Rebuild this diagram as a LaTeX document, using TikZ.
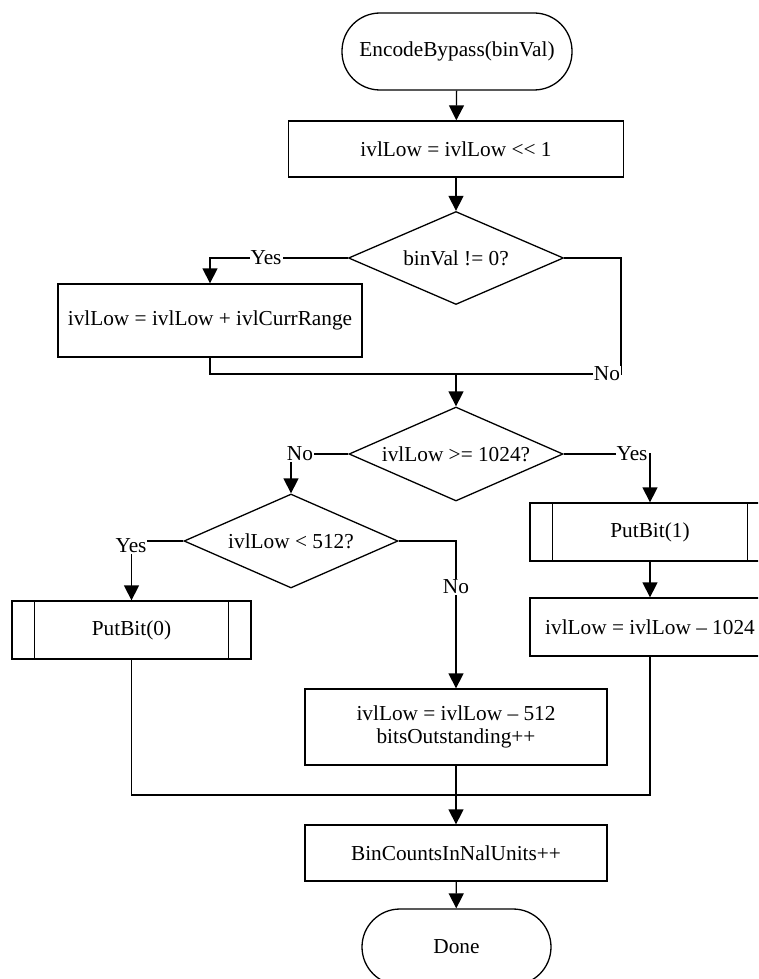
\documentclass[tikz,border=0pt]{standalone}
\usepackage{fontspec}
\setmainfont{Liberation Serif}
\usetikzlibrary{shapes.geometric,arrows.meta}
\begin{document}
\begin{tikzpicture}[x=1pt,y=-1pt,
  every node/.style={font=\fontsize{21.3}{25}\selectfont, inner sep=0pt},
  line/.style={line width=1.3pt},
  arr/.style={line width=1.3pt,-{Triangle[length=15pt,width=15pt]}},
  proc/.style={draw,line width=1.3pt,rectangle,align=center},
  term/.style={draw,line width=1.3pt,rectangle,rounded corners=38pt},
  dec/.style={draw,line width=1.3pt,diamond,aspect=2.3},
  lbl/.style={fill=white,inner sep=1pt}]
\useasboundingbox (0,0) rectangle (758,979);
\clip (0,0) rectangle (758,979);
% nodes
\node[term,minimum width=230pt,minimum height=77pt] (start) at (457,51.5) {EncodeBypass(binVal)};
\node[proc,minimum width=335pt,minimum height=56pt] (box1) at (456,149) {ivlLow = ivlLow {<}{<} 1};
\node[dec,minimum width=215pt,minimum height=93pt] (d1) at (456,258) {binVal != 0?};
\node[proc,minimum width=304pt,minimum height=73pt] (box2) at (210,320.5) {ivlLow = ivlLow + ivlCurrRange};
\node[dec,minimum width=214pt,minimum height=94pt] (d2) at (456,454) {ivlLow >= 1024?};
\node[proc,minimum width=240pt,minimum height=58pt] (pb1) at (650,532) {PutBit(1)};
\node[proc,minimum width=240pt,minimum height=58pt] (sub1024) at (650,627) {ivlLow = ivlLow -- 1024};
\node[dec,minimum width=214pt,minimum height=94pt] (d3) at (291,541) {ivlLow < 512?};
\node[proc,minimum width=239pt,minimum height=58pt] (pb0) at (131.5,630) {PutBit(0)};
\node[proc,minimum width=302pt,minimum height=76pt] (sub512) at (456,727) {ivlLow = ivlLow -- 512\\[-2pt]bitsOutstanding++};
\node[proc,minimum width=302pt,minimum height=56pt] (bincnt) at (456,853) {BinCountsInNalUnits++};
\node[term,minimum width=189pt,minimum height=76pt] (done) at (456.5,947) {Done};
% predefined process inner lines
\draw[line] ([xshift=23pt]pb1.north west) -- ([xshift=23pt]pb1.south west);
\draw[line] ([xshift=-23pt]pb1.north east) -- ([xshift=-23pt]pb1.south east);
\draw[line] ([xshift=23pt]pb0.north west) -- ([xshift=23pt]pb0.south west);
\draw[line] ([xshift=-23pt]pb0.north east) -- ([xshift=-23pt]pb0.south east);
% coordinates
\coordinate (c1) at (621,374);
\coordinate (j1) at (456,374);
\coordinate (j2) at (456,795);
% connectors
\draw[arr] (start) -- (box1);
\draw[arr] (box1) -- (d1);
\draw[arr] (d1.west) -| (box2.north);
\draw[line] (d1.east) -| (c1) -- (j1);
\draw[line] (box2.south) |- (j1);
\draw[arr] (j1) -- (d2.north);
\draw[arr] (d2.west) -| (d3.north);
\draw[arr] (d2.east) -| (pb1.north);
\draw[arr] (pb1) -- (sub1024);
\draw[line] (sub1024.south) |- (j2);
\draw[arr] (d3.west) -| (pb0.north);
\draw[arr] (d3.east) -| (sub512.north);
\draw[line] (pb0.south) |- (j2);
\draw[line] (sub512.south) -- (j2);
\draw[arr] (j2) -- (bincnt.north);
\draw[arr] (bincnt) -- (done);
% labels
\node[lbl] (l1) at (266,258) {Yes};
\node[lbl] (l2) at (607,374) {No};
\node[lbl] (l3) at (300,454) {No};
\node[lbl] (l4) at (632,454) {Yes};
\node[lbl] (l5) at (131,546) {Yes};
\node[lbl] (l6) at (456,587) {No};
\end{tikzpicture}
\end{document}
